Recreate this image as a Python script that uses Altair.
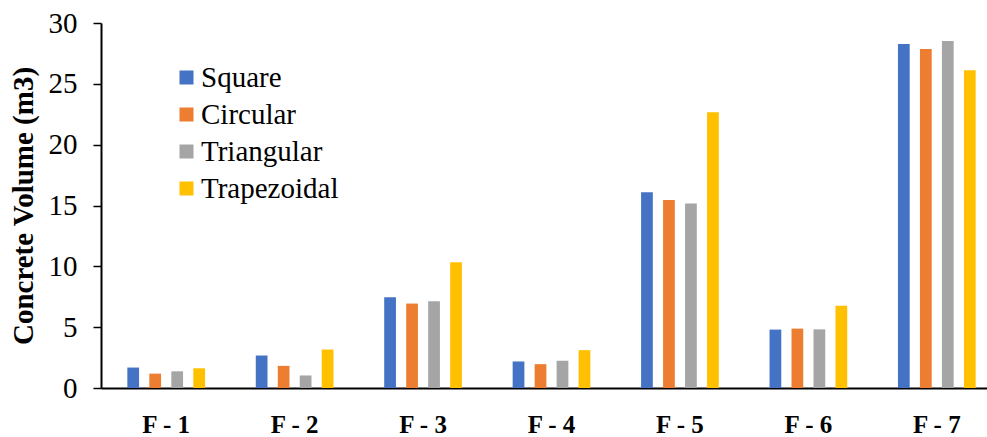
import altair as alt
import pandas as pd

# Concrete volume (m3) per footing type and shape
footings = ["F - 1", "F - 2", "F - 3", "F - 4", "F - 5", "F - 6", "F - 7"]
shapes = ["Square", "Circular", "Triangular", "Trapezoidal"]
square = [1.68, 2.67, 7.46, 2.18, 16.09, 4.80, 28.28]
circular = [1.18, 1.82, 6.94, 1.96, 15.46, 4.88, 27.87]
triangular = [1.37, 1.03, 7.13, 2.24, 15.16, 4.82, 28.53]
trapezoidal = [1.62, 3.16, 10.34, 3.11, 22.66, 6.77, 26.11]
colors = ["#4472C4", "#ED7D31", "#A5A5A5", "#FFC000"]

rows = []
for shape, vals in zip(shapes, [square, circular, triangular, trapezoidal]):
    for f, v in zip(footings, vals):
        rows.append({"Footing": f, "Shape": shape, "Volume": v})
df = pd.DataFrame(rows)

FONT = "Times New Roman, Liberation Serif, Tinos, DejaVu Serif, serif"

chart = alt.Chart(df).mark_bar().encode(
    x=alt.X(
        "Footing:N",
        sort=footings,
        scale=alt.Scale(paddingInner=0.395, paddingOuter=0.205, range=[0, 901]),
        axis=alt.Axis(
            title=None,
            labelAngle=0,
            labelFont=FONT,
            labelFontSize=25,
            labelFontWeight="bold",
            labelColor="black",
            labelPadding=24,
            ticks=False,
            tickSize=0,
            domainColor="black",
            domainWidth=2,
            grid=False,
        ),
    ),
    xOffset=alt.XOffset(
        "Shape:N",
        sort=shapes,
        scale=alt.Scale(paddingInner=0.466, paddingOuter=0),
    ),
    y=alt.Y(
        "Volume:Q",
        scale=alt.Scale(domain=[0, 30], nice=False),
        axis=alt.Axis(
            title="Concrete Volume (m3)",
            values=[0, 5, 10, 15, 20, 25, 30],
            titleFont=FONT,
            titleFontSize=29,
            titleFontWeight="bold",
            titleColor="black",
            titleAngle=-90,
            titleAlign="center",
            titleBaseline="middle",
            titleX=-78,
            titleY=182.5,
            labelFont=FONT,
            labelFontSize=29,
            labelFontWeight="normal",
            labelColor="black",
            labelPadding=16,
            tickSize=8,
            tickWidth=1.5,
            tickColor="black",
            domainColor="black",
            domainWidth=2,
            grid=False,
        ),
    ),
    color=alt.Color(
        "Shape:N",
        sort=shapes,
        scale=alt.Scale(domain=shapes, range=colors),
        legend=alt.Legend(
            title=None,
            orient="none",
            legendX=68,
            legendY=40,
            symbolType="square",
            symbolSize=196,
            symbolStrokeWidth=0,
            symbolOffset=3,
            labelFont=FONT,
            labelFontSize=29,
            labelFontWeight="normal",
            labelColor="black",
            labelOffset=0,
            rowPadding=7,
            padding=0,
        ),
    ),
).properties(
    width=886,
    height=365,
    background="white",
    autosize=alt.AutoSizeParams(type="none"),
    padding={"left": 101, "top": 23, "right": 0, "bottom": 49},
).configure_view(stroke=None)

chart.save("out.html", embed_options={"renderer": "svg", "actions": False})
